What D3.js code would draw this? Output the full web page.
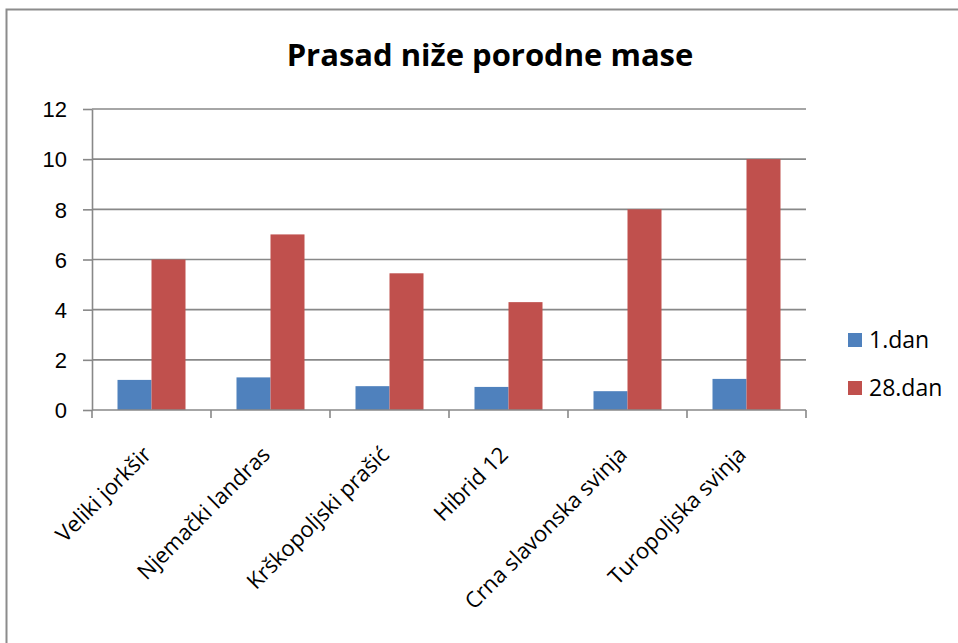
<!DOCTYPE html>
<html>
<head>
<meta charset="utf-8">
<style>
  body { margin: 0; background: #fff; }
  svg { font-family: "Open Sans", sans-serif; }
  .axis .domain { stroke: #888; stroke-width: 1.6; }
  .axis .tick line { stroke: #888; stroke-width: 1.6; }
  .axis text { fill: #000; font-size: 22px; }
</style>
</head>
<body>
<svg width="958" height="643"></svg>
<script src="https://d3js.org/d3.v7.min.js"></script>
<script>
var categories = ["Veliki jorkšir", "Njemački landras", "Krškopoljski prašić",
                  "Hibrid 12", "Crna slavonska svinja", "Turopoljska svinja"];
var seriesNames = ["1.dan", "28.dan"];
var dan1 = [1.2, 1.3, 0.95, 0.92, 0.75, 1.24];
var dan28 = [6.0, 7.0, 5.45, 4.3, 8.0, 10.0];
var yTicks = [0, 2, 4, 6, 8, 10, 12];
var colors = ["#4f81bd", "#c0504d"];

var svg = d3.select("svg"),
    margin = {top: 109, right: 152, bottom: 233, left: 92},
    width = +svg.attr("width") - margin.left - margin.right,
    height = +svg.attr("height") - margin.top - margin.bottom;

// chart area border
svg.append("rect")
    .attr("x", 6.5).attr("y", 9.5)
    .attr("width", 1000).attr("height", 1000)
    .attr("fill", "none")
    .attr("stroke", "#8c8c8c")
    .attr("stroke-width", 2);

svg.append("text")
    .attr("x", 490)
    .attr("y", 66)
    .attr("text-anchor", "middle")
    .attr("font-size", 31)
    .attr("font-weight", "bold")
    .text("Prasad niže porodne mase");

var g = svg.append("g").attr("transform", "translate(" + margin.left + "," + margin.top + ")");

var x0 = d3.scaleBand()
    .domain(categories)
    .range([0, width])
    .paddingInner(0)
    .paddingOuter(0);

var x1 = d3.scaleBand()
    .domain(seriesNames)
    .range([0, x0.bandwidth()])
    .paddingInner(0)
    .paddingOuter(0.75);

var y = d3.scaleLinear()
    .domain([0, 12])
    .range([height, 0]);

// gridlines
g.append("g")
    .selectAll("line")
    .data(yTicks.slice(1))
    .enter().append("line")
    .attr("x1", 0)
    .attr("x2", width)
    .attr("y1", function(d) { return y(d); })
    .attr("y2", function(d) { return y(d); })
    .attr("stroke", "#888")
    .attr("stroke-width", 1.6);

var rows = categories.map(function(c, i) {
    return {cat: c, values: [dan1[i], dan28[i]]};
});

g.append("g")
    .selectAll("g")
    .data(rows)
    .enter().append("g")
    .attr("transform", function(d) { return "translate(" + x0(d.cat) + ",0)"; })
    .selectAll("rect")
    .data(function(d) { return d.values.map(function(v, k) { return {key: seriesNames[k], value: v, k: k}; }); })
    .enter().append("rect")
    .attr("x", function(d) { return x1(d.key); })
    .attr("y", function(d) { return y(d.value); })
    .attr("width", x1.bandwidth())
    .attr("height", function(d) { return y(0) - y(d.value); })
    .attr("fill", function(d) { return colors[d.k]; });

// y axis
g.append("g")
    .attr("class", "axis")
    .call(d3.axisLeft(y).tickValues(yTicks).tickSize(9).tickSizeOuter(0).tickPadding(16))
    .selectAll("text").attr("dy", "0.35em");

// x axis with ticks at category boundaries
var xAxis = g.append("g")
    .attr("class", "axis")
    .attr("transform", "translate(0," + height + ")");

xAxis.append("line")
    .attr("class", "domain")
    .attr("x1", 0).attr("x2", width)
    .attr("stroke", "#888").attr("stroke-width", 1.6);

xAxis.selectAll(".bt")
    .data(d3.range(categories.length + 1))
    .enter().append("line")
    .attr("x1", function(i) { return i * x0.step(); })
    .attr("x2", function(i) { return i * x0.step(); })
    .attr("y1", 0).attr("y2", 8)
    .attr("stroke", "#888").attr("stroke-width", 1.6);

xAxis.selectAll(".lbl")
    .data(categories)
    .enter().append("text")
    .attr("text-anchor", "end")
    .attr("font-size", 22)
    .attr("transform", function(d) {
        return "translate(" + (x0(d) + x0.bandwidth() / 2 + 1) + ",46) rotate(-45)";
    })
    .text(function(d) { return d; });

// legend
var legend = svg.append("g")
    .selectAll("g")
    .data(seriesNames)
    .enter().append("g")
    .attr("transform", function(d, i) { return "translate(848," + (333 + i * 48) + ")"; });

legend.append("rect")
    .attr("width", 14)
    .attr("height", 14)
    .attr("fill", function(d, i) { return colors[i]; });

legend.append("text")
    .attr("x", 21)
    .attr("y", 15)
    .attr("font-size", 23)
    .text(function(d) { return d; });
</script>
</body>
</html>
